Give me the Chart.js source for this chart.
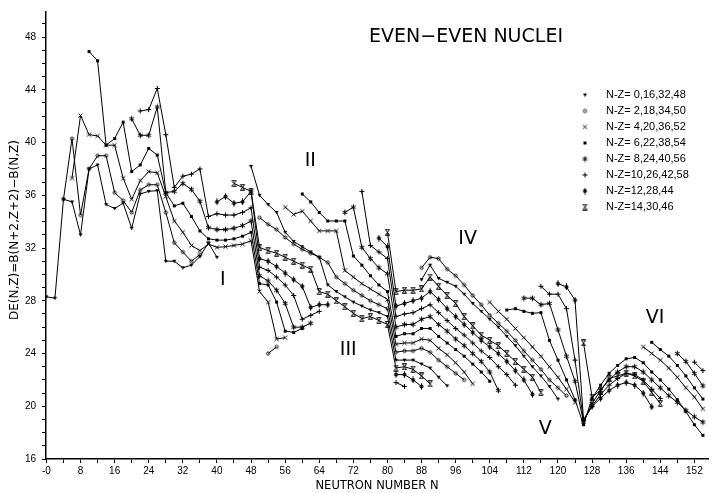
<!DOCTYPE html>
<html lang="en">
<head>
<meta charset="UTF-8" />
<title>Even-even nuclei DE(N,Z)</title>
<script src="https://cdn.jsdelivr.net/npm/chart.js"></script>
<style>
  * { margin: 0; padding: 0; box-sizing: border-box; }
  body { background: #fff; width: 713px; height: 493px; overflow: hidden; }
  #wrap { position: relative; width: 713px; height: 493px; }
</style>
</head>
<body>
<div id="wrap"><canvas id="chart" width="713" height="493"></canvas></div>
<script>
// one series per N-Z value; each array holds DE (MeV) for N = firstN, firstN+2, ...
const nzValues = [0, 2, 4, 6, 8, 10, 12, 14, 16, 18, 20, 22, 24, 26, 28, 30, 32, 34, 36, 38, 40, 42, 44, 46, 48, 50, 52, 54, 56, 58];
const firstN   = [0, 4, 6, 10, 20, 22, 40, 44, 48, 50, 56, 60, 70, 74, 78, 80, 88, 88, 104, 108, 112, 116, 120, 126, 0, 0, 140, 142, 148, 152];

const de0  = [28.3, 28.2, 35.7, 35.5, 33.0, 38.0, 38.3, 35.3, 35.0, 35.4, 33.5, 36.1, 36.3, 36.35, 31.0, 31.0, 30.5, 30.7, 31.35, 32.4, 31.3];
const de2  = [35.7, 40.3, 34.5, 38.0, 39.0, 39.0, 36.2, 35.6, 34.7, 36.4, 36.8, 36.8, 34.7, 32.4, 31.7, 31.0, 31.5, null, null, null, null, null, null, null, 24.0, 24.5];
const de4  = [37.3, 42.05, 40.6, 40.5, 39.8, 39.8, 37.3, 35.7, 37.1, 37.8, 37.7, 35.9, 34.05, 33.2, 32.2, 31.8, 32.3, 32.05, 32.1, 32.2, 32.3, 32.55, 28.7, 27.9, 25.1, 25.2];
const de6  = [46.9, 46.2, 39.8, 40.3, 41.55, 37.8, 38.3, 39.55, 39.05, 36.2, 35.2, 35.4, 34.4, 33.3, 32.7, 32.6, 32.6, 32.7, 32.9, 33.2, 29.3, 29.2, 27.9, 25.7, 25.6, 25.9];
const de8  = [41.8, 40.55, 40.55, 42.7, 36.2, 36.3, 36.9, 36.45, 35.55, 33.55, 33.4, 33.4, 33.5, 33.7, 34.05, 29.9, 29.5, 28.8, 27.8, 26.0, 26.0, 26.3];
const de10 = [42.4, 42.5, 44.1, 40.6, 36.6, 37.45, 37.6, 38.0, 34.4, 34.6, 34.5, 34.5, 34.7, 35.05, 30.55, 30.3, 29.8, 29.2, 28.4, 26.6, 26.9, 27.2, null, null, null, null, null, null, null, null, 21.8, 21.5];
const de12 = [35.5, 35.9, 35.4, 35.5, 36.3, 31.2, 31.0, 30.6, 30.1, 29.6, 29.1, 27.5, 27.7, 27.7, null, null, null, null, null, null, null, 22.4, 22.4, 22.0, 21.5];
const de14 = [36.9, 36.6, 36.3, 32.05, 31.8, 31.6, 31.3, 31.0, 30.7, 30.4, 28.7, 28.5, 28.0, 27.55, 27.05, 26.65, 26.8, 26.5, 26.2, 22.9, 23.0, 22.8, 22.3, 21.7];
const de16 = [38.2, 36.0, 35.3, 34.7, 33.2, 32.5, 32.1, 31.7, 31.3, 29.2, 28.7, 28.3, 27.9, 27.6, 27.3, 27.1, 26.8, 23.5, 23.5, 23.5, 23.2, 22.9, 22.2, 21.55];
const de18 = [34.3, 33.8, 33.4, 32.8, 32.3, 31.9, 31.6, 31.3, 30.9, 29.8, 29.3, 28.8, 28.4, 28.0, 27.7, 27.4, 24.1, 24.2, 24.2, 24.4, 24.1, 23.5, 23.0, 22.5, 22.0];
const de20 = [35.1, 34.55, 34.8, 34.05, 33.3, 33.3, 33.3, 30.3, 29.8, 29.3, 28.9, 28.5, 28.1, 24.7, 24.8, 24.8, 25.1, 25.0, 24.4, 23.9, 23.3, 22.6, 21.7];
const de22 = [36.1, 35.5, 34.7, 34.05, 34.05, 34.05, 31.4, 30.7, 29.9, 29.2, 28.7, 25.3, 25.5, 25.5, 25.9, 25.9, 25.3, 24.8, 24.3, 23.8, 23.2, 22.6, 21.9];
const de24 = [34.7, 35.1, 32.05, 31.2, 30.5, 30.05, 26.0, 26.2, 26.2, 26.6, 26.8, 26.2, 25.7, 25.1, 24.6, 24.0, 23.4, 22.6, 21.2];
const de26 = [36.3, 32.2, 31.7, 31.2, 26.8, 27.0, 27.1, 27.4, 27.7, 27.1, 26.5, 25.9, 25.4, 24.8, 24.2, 23.7, 23.0, 22.4, 21.6];
const de28 = [32.75, 32.1, 27.6, 27.8, 28.0, 28.2, 28.7, 28.1, 27.4, 26.8, 26.2, 25.6, 25.0, 24.5, 24.0, 23.4, 22.7, 22.0, 20.9];
const de30 = [33.2, 28.7, 28.8, 28.8, 28.9, 29.8, 29.1, 28.4, 27.8, 26.8, 26.1, 25.4, 25.0, 24.6, 24.0, 23.4, 22.8, 22.2, 21.05];
const de32 = [29.6, 30.7, 29.7, 29.4, 29.1, 28.5, 27.8, 27.2, 26.6, 26.0, 25.3, 24.6, 23.8, 23.0, 22.3, 21.5, 20.55];
const de34 = [30.5, 31.3, 31.2, 30.4, 29.9, 29.2, 28.4, 27.7, 26.9, 26.3, 25.7, 25.0, 24.2, 23.5, 22.8, 22.0, 21.4, 20.8];
const de36 = [27.9, 27.2, 26.6, 25.9, 25.2, 24.5, 23.8, 23.0, 22.2, 21.3, 20.3];
const de38 = [27.3, 27.4, 27.2, 27.05, 27.1, 25.0, 23.5, 22.0, 20.5, 18.6, 20.6, 21.6, 22.5, 23.1, 23.6, 23.7, 23.3, 22.6, 22.0, 21.3, 20.5, 19.6, 18.6, 17.8];
const de40 = [28.2, 28.2, 27.7, 27.8, 25.8, 23.8, 21.9, 18.8, 20.2, 21.2, 22.0, 22.6, 23.0, 23.0, 22.6, 22.0, 21.4, 20.8, 20.3, 19.7, 19.2, 18.8];
const de42 = [29.1, 28.5, 28.5, 27.4, 23.5, 18.9, 20.0, 20.9, 21.6, 22.1, 22.5, 22.4, 22.0, 21.3, 20.6];
const de44 = [29.3, 29.05, 28.05, 19.0, 20.0, 20.6, 21.2, 21.6, 21.8, 21.6, 21.0, 19.95];
const de46 = [24.8, 20.7, 21.2, 22.1, 22.3, 22.5, 22.3, 21.9, 21.05, 20.2];
const de48 = [];
const de50 = [];
const de52 = [24.5, 24.0, 23.5, 22.9, 22.2, 21.4, 20.7, 19.8];
const de54 = [24.85, 24.3, 23.8, 23.1, 22.3, 21.4, 20.55];
const de56 = [24.0, 23.4, 22.5, 21.55];
const de58 = [23.35, 22.7];

const seriesDE = [de0, de2, de4, de6, de8, de10, de12, de14, de16, de18, de20, de22, de24, de26, de28,
                  de30, de32, de34, de36, de38, de40, de42, de44, de46, de48, de50, de52, de54, de56, de58];

const xTicks = [0, 4, 8, 12, 16, 20, 24, 28, 32, 36, 40, 44, 48, 52, 56, 60, 64, 68, 72, 76, 80,
                84, 88, 92, 96, 100, 104, 108, 112, 116, 120, 124, 128, 132, 136, 140, 144, 148, 152];
const legendLabels = ['N-Z= 0,16,32,48', 'N-Z= 2,18,34,50', 'N-Z= 4,20,36,52', 'N-Z= 6,22,38,54',
                      'N-Z= 8,24,40,56', 'N-Z=10,26,42,58', 'N-Z=12,28,44', 'N-Z=14,30,46'];
// region names, placed at (N, DE)
const regionNames = ['I', 'II', 'III', 'IV', 'V', 'VI'];
const regionN  = [41.4, 61.9, 70.8, 98.8, 117.0, 142.8];
const regionDE = [29.6, 38.6, 24.25, 32.7, 18.3, 26.7];

// ---- marker symbols (one per N-Z mod 16) ----
function makeSymbol(draw) {
  const c = document.createElement('canvas');
  c.width = 7; c.height = 7;
  const g = c.getContext('2d');
  g.strokeStyle = '#000';
  g.fillStyle = '#000';
  g.lineWidth = 1;
  g.translate(3.5, 3.5);
  draw(g);
  return c;
}
function seg(g, pts) {
  g.beginPath();
  for (let i = 0; i < pts.length; i += 4) { g.moveTo(pts[i], pts[i + 1]); g.lineTo(pts[i + 2], pts[i + 3]); }
  g.stroke();
}
const symbols = [
  makeSymbol(g => { g.beginPath(); g.moveTo(-2, -1.5); g.lineTo(2, -1.5); g.lineTo(0, 2); g.closePath(); g.fill(); }),
  makeSymbol(g => { g.beginPath(); g.arc(0, 0, 1.6, 0, Math.PI * 2); g.stroke(); }),
  makeSymbol(g => seg(g, [-2, -2, 2, 2, 2, -2, -2, 2])),
  makeSymbol(g => g.fillRect(-1.5, -1.5, 3, 3)),
  makeSymbol(g => seg(g, [0, -2.8, 0, 2.8, -2.4, -1.4, 2.4, 1.4, -2.4, 1.4, 2.4, -1.4])),
  makeSymbol(g => seg(g, [-2.5, 0, 2.5, 0, 0, -2.5, 0, 2.5])),
  makeSymbol(g => {
    g.beginPath(); g.arc(0, 0, 2, 0, Math.PI * 2); g.fill();
    g.fillStyle = '#fff';
    g.beginPath(); g.arc(0, 0, 0.8, 0, Math.PI * 2); g.fill();
    seg(g, [0, -3.2, 0, 3.2]);
  }),
  makeSymbol(g => seg(g, [-2.2, -2.8, 2.2, -2.8, -2.2, 2.8, 2.2, 2.8, -2, -2.8, 2, 2.8, 2, -2.8, -2, 2.8]))
];

const datasets = seriesDE.map((vals, j) => ({
  label: 'N-Z=' + nzValues[j],
  data: vals.map((v, i) => ({ x: firstN[j] + 2 * i, y: v })),
  borderColor: '#000',
  borderWidth: 1,
  pointStyle: symbols[j % 8],
  pointRadius: 3,
  spanGaps: false,
  tension: 0
}));

const textPlugin = {
  id: 'texts',
  afterDraw(chart) {
    const ctx = chart.ctx;
    const xs = chart.scales.x, ys = chart.scales.y;
    ctx.save();
    ctx.fillStyle = '#000';
    ctx.textBaseline = 'middle';
    ctx.textAlign = 'center';

    ctx.font = '19px "DejaVu Sans"';
    ctx.fillText('EVEN\u2212EVEN NUCLEI', 466, 37);

    ctx.font = '11.5px "DejaVu Sans"';
    ctx.fillText('NEUTRON NUMBER N', (chart.chartArea.left + chart.chartArea.right) / 2, 486);

    ctx.save();
    ctx.translate(15, 230);
    ctx.rotate(-Math.PI / 2);
    ctx.font = '12px "DejaVu Sans"';
    ctx.fillText('DE(N,Z)=B(N+2,Z+2)\u2212B(N,Z)', 0, 0);
    ctx.restore();

    ctx.font = '19px "DejaVu Sans"';
    regionNames.forEach((t, i) => {
      ctx.fillText(t, xs.getPixelForValue(regionN[i]), ys.getPixelForValue(regionDE[i]));
    });

    ctx.textAlign = 'left';
    ctx.font = '11px "Liberation Sans"';
    legendLabels.forEach((t, i) => {
      const y = 95 + i * 16;
      ctx.drawImage(symbols[i], 585 - 3.5, y - 3.5);
      ctx.fillText(t, 606, y);
    });
    ctx.restore();
  }
};

new Chart(document.getElementById('chart'), {
  type: 'line',
  data: { datasets },
  options: {
    responsive: false,
    animation: false,
    events: [],
    layout: { padding: { top: 7, right: 1, left: 0, bottom: 0 } },
    plugins: { legend: { display: false }, tooltip: { enabled: false } },
    scales: {
      x: {
        type: 'linear',
        min: -0.1,
        max: 155.2,
        afterBuildTicks: s => { s.ticks = xTicks.map(v => ({ value: v })); },
        afterFit: s => { s.height = 34; },
        ticks: {
          autoSkip: false,
          maxRotation: 0,
          padding: 2,
          color: '#000',
          font: { family: 'Liberation Sans', size: 10 },
          callback: v => (v % 8 === 0 ? (v === 0 ? '-0' : String(v)) : '')
        },
        grid: { drawOnChartArea: false, drawTicks: true, tickLength: 4, color: '#000', lineWidth: 1 },
        border: { display: true, color: '#000', width: 1.5 }
      },
      y: {
        min: 16,
        max: 49.9,
        afterBuildTicks: s => {
          const t = [];
          for (let v = 16; v <= 49; v++) t.push({ value: v });
          s.ticks = t;
        },
        afterFit: s => { s.width = 46; },
        ticks: {
          autoSkip: false,
          padding: 6,
          color: '#000',
          font: { family: 'Liberation Sans', size: 10 },
          callback: v => (v % 4 === 0 ? String(v) : '')
        },
        grid: { drawOnChartArea: false, drawTicks: true, tickLength: 4, color: '#000', lineWidth: 1 },
        border: { display: true, color: '#000', width: 1.5 }
      }
    }
  },
  plugins: [textPlugin]
});
</script>
</body>
</html>
